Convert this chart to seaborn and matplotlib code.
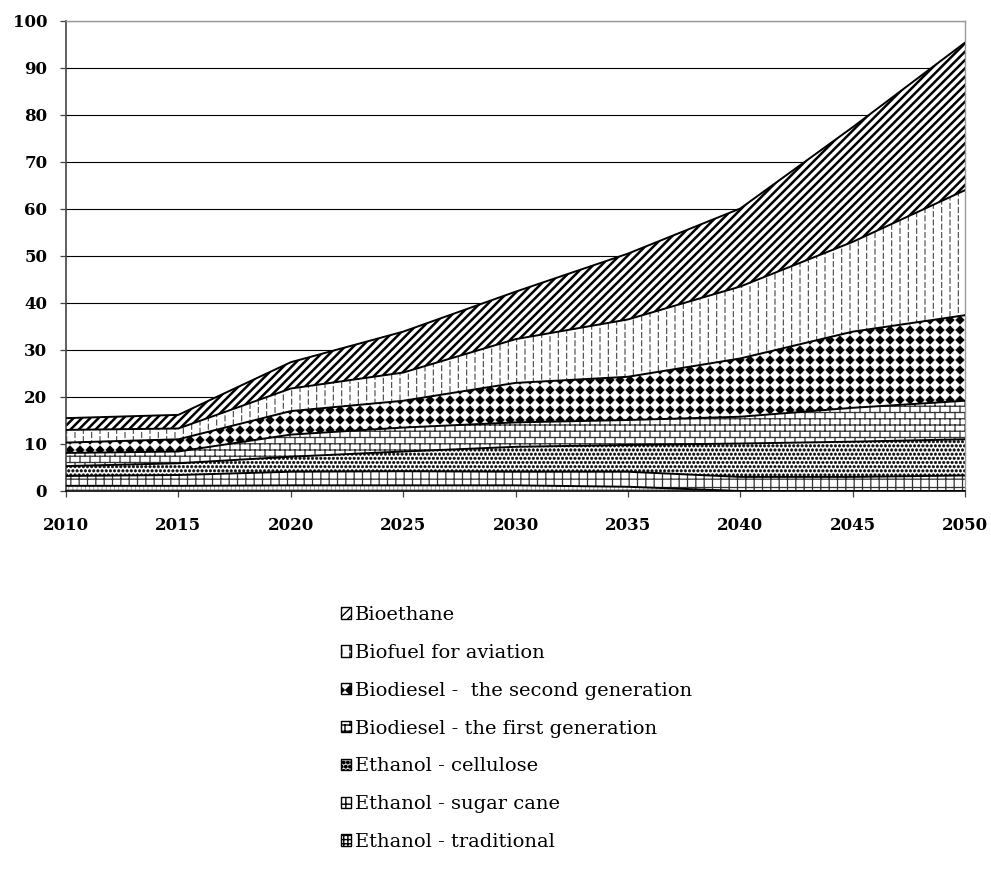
import numpy as np
import pandas as pd
import matplotlib
matplotlib.use("Agg")
import matplotlib.pyplot as plt
import matplotlib.hatch as mhatch
from matplotlib.path import Path
from matplotlib.patches import Patch
import seaborn as sns

# Biofuel production by type (stacked), 2010-2050
years = [2010, 2015, 2020, 2025, 2030, 2035, 2040, 2045, 2050]

ethanol_traditional = [1.1, 1.1, 1.2, 1.2, 1.2, 0.9, 0.0, 0.0, 0.0]
ethanol_sugar_cane = [2.1, 2.3, 2.9, 3.0, 2.9, 3.2, 3.0, 3.0, 3.3]
ethanol_cellulose = [2.1, 2.5, 3.2, 4.2, 5.3, 5.7, 7.1, 7.5, 7.7]
biodiesel_first = [2.8, 2.5, 4.7, 5.1, 5.2, 5.3, 5.7, 7.2, 8.2]
biodiesel_second = [2.2, 2.6, 5.0, 5.7, 8.4, 9.2, 12.4, 16.2, 18.2]
biofuel_aviation = [2.7, 2.3, 4.8, 6.0, 9.3, 12.2, 15.3, 19.1, 26.6]
bioethane = [2.5, 2.9, 5.6, 8.7, 10.1, 14.0, 16.6, 24.4, 31.4]

series_labels = [
    "Ethanol - traditional",
    "Ethanol - sugar cane",
    "Ethanol - cellulose",
    "Biodiesel - the first generation",
    "Biodiesel -  the second generation",
    "Biofuel for aviation",
    "Bioethane",
]
y_ticks = [0, 10, 20, 30, 40, 50, 60, 70, 80, 90, 100]
x_ticks = [2010, 2015, 2020, 2025, 2030, 2035, 2040, 2045, 2050]


# --- extra fill textures: diamonds ('*'), short vertical dashes ('o'),
# --- bricks ('O') and larger dots ('.')
class DiamondHatch(mhatch.HatchPatternBase):
    def __init__(self, hatch, density):
        self.n = 10 * hatch.count('*')
        self.num_vertices = 5 * (self.n + 1) ** 2 if self.n else 0

    def set_vertices_and_codes(self, vertices, codes):
        n = self.n
        h = 0.42 / n
        shape = np.array([[0, h], [-h, 0], [0, -h], [h, 0], [0, h]])
        k = 0
        for i in range(n + 1):
            for j in range(n + 1):
                vertices[k:k + 5] = shape + (i / n, j / n)
                codes[k:k + 5] = [Path.MOVETO, Path.LINETO, Path.LINETO,
                                  Path.LINETO, Path.CLOSEPOLY]
                k += 5


class DashHatch(mhatch.HatchPatternBase):
    def __init__(self, hatch, density):
        c = hatch.count('o')
        self.cols = 12 * c
        self.rows = 12 * c
        self.num_vertices = 2 * (self.cols + 1) * (self.rows + 2) if c else 0

    def set_vertices_and_codes(self, vertices, codes):
        k = 0
        for i in range(self.cols + 1):
            x = i / self.cols
            off = 0.5 / self.rows if i % 2 else 0.0
            for j in range(-1, self.rows + 1):
                y0 = j / self.rows + off
                vertices[k] = (x, y0)
                vertices[k + 1] = (x, y0 + 0.6 / self.rows)
                codes[k] = Path.MOVETO
                codes[k + 1] = Path.LINETO
                k += 2


class BrickHatch(mhatch.HatchPatternBase):
    def __init__(self, hatch, density):
        c = hatch.count('O')
        self.rows = 16 if c else 0
        self.cols = 10 if c else 0
        self.num_vertices = (2 * (self.rows + 1) + 2 * self.rows * (self.cols + 1)) if c else 0

    def set_vertices_and_codes(self, vertices, codes):
        k = 0
        for r in range(self.rows + 1):
            y = r / self.rows
            vertices[k] = (0, y)
            vertices[k + 1] = (1, y)
            codes[k] = Path.MOVETO
            codes[k + 1] = Path.LINETO
            k += 2
        for r in range(self.rows):
            y0, y1 = r / self.rows, (r + 1) / self.rows
            start = 0 if r % 2 == 0 else -1
            shift = 0.0 if r % 2 == 0 else 0.5
            for j in range(start, start + self.cols + 1):
                x = (j + shift) / self.cols
                vertices[k] = (x, y0)
                vertices[k + 1] = (x, y1)
                codes[k] = Path.MOVETO
                codes[k + 1] = Path.LINETO
                k += 2


class DotHatch(mhatch.SmallFilledCircles):
    size = 0.3


_types = mhatch._hatch_types
_types[_types.index(mhatch.Stars)] = DiamondHatch
_types[_types.index(mhatch.SmallCircles)] = DashHatch
_types[_types.index(mhatch.LargeCircles)] = BrickHatch
_types[_types.index(mhatch.SmallFilledCircles)] = DotHatch

df = pd.DataFrame(
    {
        series_labels[0]: ethanol_traditional,
        series_labels[1]: ethanol_sugar_cane,
        series_labels[2]: ethanol_cellulose,
        series_labels[3]: biodiesel_first,
        series_labels[4]: biodiesel_second,
        series_labels[5]: biofuel_aviation,
        series_labels[6]: bioethane,
    },
    index=pd.Index(years, name="year"),
)
cum = df.cumsum(axis=1)

# fill pattern per series: (hatch, hatch colour, hatch line width)
patterns = {
    series_labels[0]: ("++++", "#8a8a8a", 0.5),
    series_labels[1]: ("++", "#333333", 0.9),
    series_labels[2]: ("....", "#111111", 0.4),
    series_labels[3]: ("O", "#333333", 0.9),
    series_labels[4]: ("*", "black", 0.5),
    series_labels[5]: ("o", "#444444", 0.8),
    series_labels[6]: ("////", "black", 1.8),
}

sns.set_theme(style="white")
plt.rcParams["font.family"] = ["DejaVu Serif"]
plt.rcParams["text.color"] = "black"
plt.rcParams["xtick.color"] = "black"
plt.rcParams["ytick.color"] = "black"

fig = plt.figure(figsize=(9.91, 8.81), dpi=100)
ax = fig.add_axes([66 / 991, 1 - 491 / 881, (965 - 66) / 991, (491 - 21) / 881])

base = np.zeros(len(years))
for name in series_labels:
    top = cum[name].to_numpy()
    hatch, hcol, hlw = patterns[name]
    with plt.rc_context({"hatch.linewidth": hlw}):
        ax.fill_between(years, base, top, facecolor="white", edgecolor=hcol,
                        linewidth=0, hatch=hatch, zorder=2)
    base = top

# band boundaries
long = cum.reset_index().melt(id_vars="year", var_name="series", value_name="top")
sns.lineplot(data=long, x="year", y="top", units="series", estimator=None,
             color="black", linewidth=1.4, ax=ax, zorder=3)

ax.set_xlim(2010, 2050)
ax.set_ylim(0, 100)
ax.set_xticks(x_ticks)
ax.set_yticks(y_ticks)
ax.set_xlabel("")
ax.set_ylabel("")
ax.set_axisbelow(True)
ax.yaxis.grid(True, color="black", linewidth=0.8)
ax.xaxis.grid(False)

ax.tick_params(axis="both", which="major", direction="out", bottom=True, left=True,
               length=4.5, width=0.9, color="#444444", labelsize=12)
ax.tick_params(axis="y", pad=9)
ax.tick_params(axis="x", pad=14)
for lbl in ax.get_xticklabels() + ax.get_yticklabels():
    lbl.set_fontweight("bold")

for side in ("top", "right"):
    ax.spines[side].set_color("#999999")
    ax.spines[side].set_linewidth(1.0)
ax.spines["left"].set_color("#444444")
ax.spines["left"].set_linewidth(1.2)
ax.spines["bottom"].set_color("black")
ax.spines["bottom"].set_linewidth(1.2)

handles = []
for name in reversed(series_labels):
    hatch, hcol, hlw = patterns[name]
    with plt.rc_context({"hatch.linewidth": min(hlw, 1.0)}):
        handles.append(Patch(facecolor="white", edgecolor="black", hatch=hatch, linewidth=1.0))
fig.legend(handles, list(reversed(series_labels)), loc="upper left",
           bbox_to_anchor=(341 / 991, 1 - 606 / 881), frameon=False,
           fontsize=14, handlelength=0.52, handleheight=0.52, handletextpad=0.22,
           labelspacing=1.02, borderpad=0, borderaxespad=0)

fig.savefig("out.png", dpi=100)
